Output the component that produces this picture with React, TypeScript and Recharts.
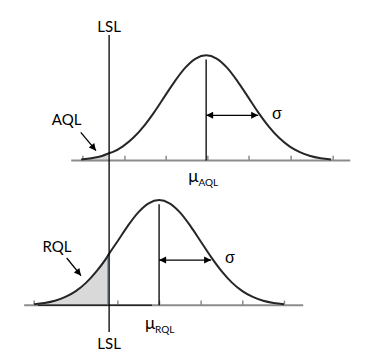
import {
  ComposedChart,
  Line,
  Area,
  XAxis,
  YAxis,
  ReferenceLine,
  ReferenceDot,
} from "recharts";

// z grid (in sigma units) and curve height (peak = 1)
const Z = [-3, -2.75, -2.5, -2.25, -2, -1.75, -1.5, -1.25, -1, -0.75, -0.5, -0.25, 0,
  0.25, 0.5, 0.75, 1, 1.25, 1.5, 1.75, 2, 2.25, 2.5, 2.75, 3];
const DENSITY = [0.011, 0.023, 0.044, 0.08, 0.135, 0.216, 0.325, 0.458, 0.607, 0.755, 0.883, 0.969, 1,
  0.969, 0.883, 0.755, 0.607, 0.458, 0.325, 0.216, 0.135, 0.08, 0.044, 0.023, 0.011];

// positions on the shared x scale (LSL = 0, sigma = 1)
const LSL = 0;
const MU_AQL = 2.33;
const MU_RQL = 1.2;
const AQL_AT_LSL = 0.07;
const RQL_AT_LSL = 0.49;
const TICKS_AQL = [-0.63, 0.38, 1.37, 2.37, 3.36, 4.37, 5.38];
const TICKS_RQL = [-1.8, 0.21, 1.21, 2.21, 3.21, 4.21];

// layout constants
const TOP_BASE = 1.375;
const TICK_LEN = 0.045;
const SANS = "Lato, 'Noto Sans', sans-serif";
const GREEK = "'Liberation Sans', Arial, sans-serif";

type Pt = { x: number; y: number };

function curve(mu: number, base: number, atLsl: number): Pt[] {
  const pts = Z.map((z, i) => ({ x: mu + z, y: base + DENSITY[i] }));
  pts.push({ x: LSL, y: base + atLsl });
  return pts.sort((a, b) => a.x - b.x);
}

function shade(pts: Pt[], base: number) {
  return pts.filter((p) => p.x <= LSL).map((p) => ({ x: p.x, band: [base, p.y] }));
}

const aqlCurve = curve(MU_AQL, TOP_BASE, AQL_AT_LSL);
const rqlCurve = curve(MU_RQL, 0, RQL_AT_LSL);
const aqlShade = shade(aqlCurve, TOP_BASE);
const rqlShade = shade(rqlCurve, 0);

function head(x1: number, y1: number, x2: number, y2: number, key: string) {
  const len = Math.hypot(x2 - x1, y2 - y1) || 1;
  const ux = (x2 - x1) / len;
  const uy = (y2 - y1) / len;
  const l = 7;
  const w = 3.5;
  const bx = x2 - ux * l;
  const by = y2 - uy * l;
  return (
    <polygon
      key={key}
      points={`${x2},${y2} ${bx - uy * w},${by + ux * w} ${bx + uy * w},${by - ux * w}`}
      fill="#000"
    />
  );
}

const arrow = (both: boolean) => (p: any) => {
  const { x1, y1, x2, y2 } = p;
  return (
    <g>
      <line x1={x1} y1={y1} x2={x2} y2={y2} stroke="#000" strokeWidth={1.3} />
      {head(x1, y1, x2, y2, "e")}
      {both && head(x2, y2, x1, y1, "s")}
    </g>
  );
};

const label = (text: string, size = 15, family = SANS, anchor = "middle") => (p: any) => (
  <text x={p.cx} y={p.cy} textAnchor={anchor} fontSize={size} fontFamily={family} fill="#000">
    {text}
  </text>
);

const muLabel = (sub: string) => (p: any) => (
  <text x={p.cx} y={p.cy} fontFamily={SANS} fill="#000">
    <tspan fontSize={17}>μ</tspan>
    <tspan fontSize={10} dy={4}>
      {sub}
    </tspan>
  </text>
);

function axisLines(mu: number, base: number, ticks: number[], color: string) {
  return [
    <ReferenceLine
      key={`ax${mu}`}
      segment={[{ x: mu - 3.24, y: base }, { x: mu + 3.46, y: base }]}
      stroke={color}
      strokeWidth={2}
    />,
    ...ticks.map((t) => (
      <ReferenceLine
        key={`t${mu}${t}`}
        segment={[{ x: t, y: base }, { x: t, y: base + TICK_LEN }]}
        stroke={color}
        strokeWidth={1.5}
      />
    )),
  ];
}

export default function App() {
  return (
    <div style={{ position: "absolute", left: 0, top: 0, width: 370, height: 362, background: "#fff" }}>
      <ComposedChart width={370} height={362} margin={{ top: 0, right: 11, bottom: 4, left: 5 }}>
        <XAxis type="number" dataKey="x" domain={[-2.5, 6]} hide allowDataOverflow />
        <YAxis type="number" domain={[-0.5, 2.9]} hide allowDataOverflow />

        {axisLines(MU_AQL, TOP_BASE, TICKS_AQL, "#8c8c8c")}
        {axisLines(MU_RQL, 0, TICKS_RQL, "#8c8c8c")}
        <ReferenceLine segment={[{ x: -1.71, y: 0 }, { x: 1.03, y: 0 }]} stroke="#262626" strokeWidth={1.5} />

        <Area data={aqlShade} dataKey="band" type="monotone" fill="#d9d9d9" fillOpacity={1}
          stroke="#4a7ebb" strokeWidth={1} isAnimationActive={false} />
        <Area data={rqlShade} dataKey="band" type="monotone" fill="#d9d9d9" fillOpacity={1}
          stroke="#4a7ebb" strokeWidth={1} isAnimationActive={false} />
        <ReferenceLine segment={[{ x: LSL - 0.03, y: 0 }, { x: LSL - 0.03, y: RQL_AT_LSL }]} stroke="#4a7ebb" strokeWidth={1} />

        <Line data={aqlCurve} dataKey="y" type="monotone" stroke="#262626" strokeWidth={2}
          dot={false} isAnimationActive={false} />
        <Line data={rqlCurve} dataKey="y" type="monotone" stroke="#262626" strokeWidth={2}
          dot={false} isAnimationActive={false} />

        {/* LSL and means */}
        <ReferenceLine segment={[{ x: LSL, y: 2.568 }, { x: LSL, y: -0.253 }]} stroke="#000" strokeWidth={1.3} />
        <ReferenceLine segment={[{ x: MU_AQL, y: TOP_BASE }, { x: MU_AQL, y: TOP_BASE + 0.96 }]} stroke="#000" strokeWidth={1.3} />
        <ReferenceLine segment={[{ x: MU_RQL, y: 0 }, { x: MU_RQL, y: 0.96 }]} stroke="#000" strokeWidth={1.3} />

        {/* sigma arrows */}
        <ReferenceLine segment={[{ x: MU_AQL, y: TOP_BASE + 0.43 }, { x: MU_AQL + 1.25, y: TOP_BASE + 0.43 }]} shape={arrow(true)} />
        <ReferenceLine segment={[{ x: MU_RQL, y: 0.43 }, { x: MU_RQL + 1.25, y: 0.43 }]} shape={arrow(true)} />

        {/* pointer arrows */}
        <ReferenceLine segment={[{ x: -0.68, y: TOP_BASE + 0.268 }, { x: -0.315, y: TOP_BASE + 0.094 }]} shape={arrow(false)} />
        <ReferenceLine segment={[{ x: -1.018, y: 0.45 }, { x: -0.675, y: 0.282 }]} shape={arrow(false)} />

        {/* labels */}
        <ReferenceDot x={LSL} y={2.596} r={0} shape={label("LSL")} />
        <ReferenceDot x={LSL} y={-0.415} r={0} shape={label("LSL")} />
        <ReferenceDot x={-1.02} y={TOP_BASE + 0.338} r={0} shape={label("AQL")} />
        <ReferenceDot x={-1.25} y={0.507} r={0} shape={label("RQL")} />
        <ReferenceDot x={MU_AQL + 1.7} y={TOP_BASE + 0.395} r={0} shape={label("σ", 16, GREEK)} />
        <ReferenceDot x={MU_RQL + 1.7} y={0.4} r={0} shape={label("σ", 16, GREEK)} />
        <ReferenceDot x={MU_AQL - 0.43} y={TOP_BASE - 0.204} r={0} shape={muLabel("AQL")} />
        <ReferenceDot x={MU_RQL - 0.34} y={-0.225} r={0} shape={muLabel("RQL")} />
      </ComposedChart>
    </div>
  );
}
